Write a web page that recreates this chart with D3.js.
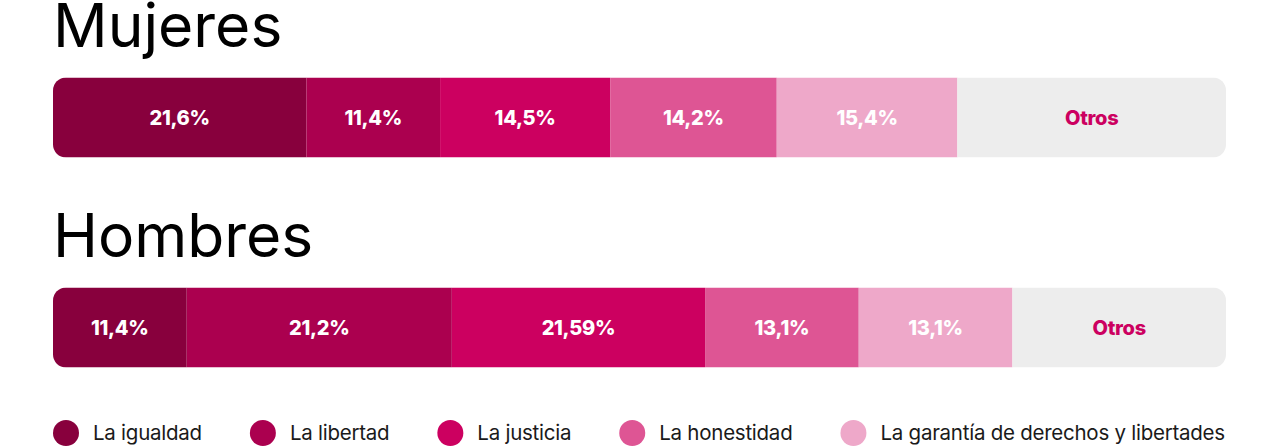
<!DOCTYPE html>
<html><head><meta charset="utf-8">
<script src="https://cdn.jsdelivr.net/npm/d3@7"></script>
<style>
html,body{margin:0;padding:0;background:#fff;}
svg{display:block;font-family:Inter,"Noto Sans",sans-serif;}
</style></head>
<body>
<svg id="chart" width="1280" height="447"></svg>
<script>
const categories = ["La igualdad","La libertad","La justicia","La honestidad","La garantía de derechos y libertades","Otros"];
const groups = ["Mujeres","Hombres"];
const mujeresValues = [21.6, 11.4, 14.5, 14.2, 15.4, 22.9];
const hombresValues = [11.4, 22.6, 21.59, 13.1, 13.1, 18.21];
const mujeresLabels = ["21,6%","11,4%","14,5%","14,2%","15,4%","Otros"];
const hombresLabels = ["11,4%","21,2%","21,59%","13,1%","13,1%","Otros"];
const colors = ["#88003d","#ab004f","#cc0060","#de5594","#eea8c9","#ededed"];

const svg = d3.select("#chart");
const x = d3.scaleLinear().domain([0,100]).range([53,1226]);
const groupY = d3.scaleOrdinal().domain(groups).range([77.5,287.5]);
const barH = 80;

const series = [
  {name:"Mujeres", values:mujeresValues, labels:mujeresLabels},
  {name:"Hombres", values:hombresValues, labels:hombresLabels}
];

const defs = svg.append("defs");
series.forEach((s,i)=>{
  const y0 = groupY(s.name);
  defs.append("clipPath").attr("id","clip"+i)
    .append("rect").attr("x",x(0)).attr("y",y0).attr("width",x(100)-x(0)).attr("height",barH).attr("rx",13).attr("ry",13);

  svg.append("text").attr("x",53).attr("y",y0-31)
    .attr("font-size",60.5).attr("font-weight",400).attr("fill","#000")
    .text(s.name);

  let acc = 0;
  const segs = s.values.map((v,j)=>{const d={start:acc,end:acc+v,label:s.labels[j],color:colors[j],idx:j}; acc+=v; return d;});
  const g = svg.append("g").attr("clip-path","url(#clip"+i+")");
  g.selectAll("rect").data(segs).join("rect")
    .attr("x",d=>x(d.start)).attr("y",y0)
    .attr("width",d=>x(d.end)-x(d.start)).attr("height",barH)
    .attr("fill",d=>d.color);
  svg.append("g").selectAll("text").data(segs).join("text")
    .attr("x",d=>(x(d.start)+x(d.end))/2).attr("y",y0+barH/2)
    .attr("dy","0.36em").attr("text-anchor","middle")
    .attr("font-size",20).attr("font-weight",800)
    .attr("letter-spacing","-0.3")
    .attr("fill",d=>d.idx===5?"#cc0060":"#fff")
    .text(d=>d.label);
});

// legend
const lg = svg.append("g");
let lx = 53;
categories.slice(0,5).forEach((c,j)=>{
  lg.append("circle").attr("cx",lx+13).attr("cy",433).attr("r",13).attr("fill",colors[j]);
  const t = lg.append("text").attr("x",lx+40).attr("y",433).attr("dy","0.35em")
    .attr("font-size",20.5).attr("fill","#1a1a1a").attr("letter-spacing","-0.25").text(c);
  const w = t.node().getComputedTextLength();
  lx = lx + 40 + w + 48;
});
</script>
</body></html>
